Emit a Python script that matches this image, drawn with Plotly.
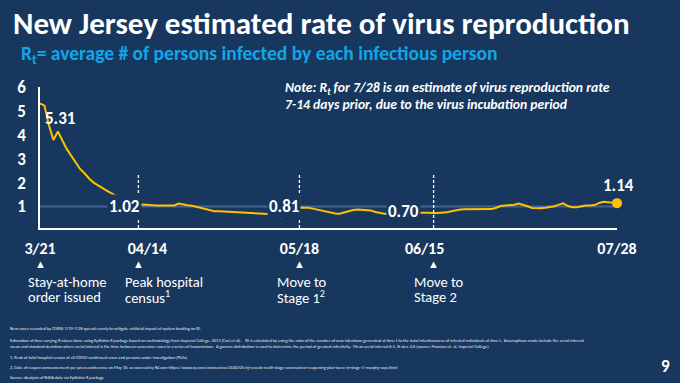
import plotly.graph_objects as go
import pandas as pd

# ---------------- data ----------------
start_date = "2020-03-21"
rt_values = [
    5.31, 5.22, 4.40, 3.78, 4.14, 3.78, 3.40, 3.12, 2.82, 2.56,
    2.38, 2.16, 2.00, 1.87, 1.77, 1.65, 1.55, 1.42, 1.32, 1.22,
    1.14, 1.08, 1.06, 1.08, 1.06, 1.05, 1.04, 1.04, 1.03, 1.02,
    1.04, 1.12, 1.07, 1.05, 1.03, 0.99, 0.95, 0.91, 0.85, 0.80,
    0.80, 0.79, 0.79, 0.79, 0.78, 0.77, 0.75, 0.75, 0.74, 0.72,
    0.71, 0.69, 0.63, 0.57, 0.54, 0.62, 0.78, 0.90, 0.96, 0.96,
    0.95, 0.91, 0.87, 0.82, 0.76, 0.73, 0.71, 0.70, 0.76, 0.82,
    0.85, 0.87, 0.86, 0.85, 0.83, 0.77, 0.73, 0.70, 0.70, 0.70,
    0.70, 0.70, 0.71, 0.72, 0.73, 0.74, 0.75, 0.74, 0.72, 0.73,
    0.75, 0.76, 0.80, 0.85, 0.87, 0.88, 0.88, 0.87, 0.87, 0.87,
    0.86, 0.89, 0.95, 1.02, 1.04, 1.04, 1.07, 1.12, 1.08, 1.01,
    0.94, 0.92, 0.93, 0.95, 0.97, 1.01, 1.08, 1.13, 1.02, 0.97,
    0.97, 1.02, 1.04, 1.04, 1.06, 1.15, 1.20, 1.18, 1.16, 1.14,
]
dates = pd.date_range(start_date, periods=len(rt_values), freq="D")

tick_dates = ["2020-03-21", "2020-04-14", "2020-05-18", "2020-06-15", "2020-07-28"]
tick_labels = ["3/21", "04/14", "05/18", "06/15", "07/28"]
y_ticks = [1, 2, 3, 4, 5, 6]

event_dates = ["2020-03-21", "2020-04-12", "2020-05-18", "2020-06-17"]
event_line1 = ["Stay-at-home", "Peak hospital", "Move to", "Move to"]
event_line2 = ["order issued", "census<sup>1</sup>", "Stage 1<sup>2</sup>", "Stage 2"]
vline_dates = ["2020-04-12", "2020-05-18", "2020-06-17"]

value_labels = ["5.31", "1.02", "0.81", "0.70", "1.14"]

title_text = "New Jersey estimated rate of virus reproduction"
subtitle_text = "R<sub>t</sub>= average # of persons infected by each infectious person"
note_lines = ["Note: R<sub>t</sub> for 7/28 is an estimate of virus reproduction rate",
              "7-14 days prior, due to the virus incubation period"]
footnotes = [
    "New cases recorded by CDRSS 7/19-7/28 spread evenly to mitigate artificial impact of system backlog on RI.",
    "Estimation of time-varying R values done using EpiEstim R package based on methodology from Imperial College, 2013 (Cori et al).    Rt is calculated by using the ratio of the number of new infections generated at time t to the total infectiousness of infected individuals at time t.  Assumptions made include the serial interval",
    "mean and standard deviation where serial interval is the time between successive cases in a series of transmission.  A gamma distribution is used to determine the period of greatest infectivity.  Mean serial interval 6.5, St dev. 4.6 (source: Flaxman et. al, Imperial College).",
    "1. Peak of total hospital census of all COVID-confirmed cases and persons under investigation (PUIs).",
    "2. Date of reopen announcement per press conference on May 18, as covered by NJ.com https://www.nj.com/coronavirus/2020/05/nj-reveals-multi-stage-coronavirus-reopening-plan-were-in-stage-1-murphy-says.html",
    "Source: Analysis of NJHA data via EpiEstim R package",
]
page_number = "9"

# ---------------- style ----------------
BG = "#17375E"
YELLOW = "#FFC000"
LIGHTBLUE = "#12A6E8"
REFBLUE = "#3F6496"
FONT = "Carlito, Calibri, Lato, sans-serif"

WIDTH, HEIGHT = 680, 383
L, R, T, B = 40, 63, 87, 155
PW = WIDTH - L - R
PH = HEIGHT - T - B


def px(x):
    return (x - L) / PW


def py(y):
    return (HEIGHT - B - y) / PH


fig = go.Figure()

# reference line at Rt = 1
fig.add_trace(go.Scatter(
    x=[dates[0], dates[-1]], y=[1, 1], mode="lines",
    line=dict(color=REFBLUE, width=2), hoverinfo="skip", showlegend=False))

fig.add_trace(go.Scatter(
    x=dates, y=rt_values, mode="lines",
    line=dict(color=YELLOW, width=2), showlegend=False))

fig.add_trace(go.Scatter(
    x=[dates[-1]], y=[rt_values[-1]], mode="markers",
    marker=dict(color=YELLOW, size=10), cliponaxis=False, showlegend=False))

for d in vline_dates:
    fig.add_shape(type="line", xref="x", yref="y", x0=d, x1=d, y0=0.1, y1=2.35,
                  line=dict(color="white", width=1.3, dash="3px,2px"), layer="above")

ann = []
# title & subtitle
ann.append(dict(text=title_text, x=px(11), y=py(23), xref="paper", yref="paper",
                xanchor="left", yanchor="middle", showarrow=False,
                font=dict(family=FONT, size=31, color="white", weight="bold")))
ann.append(dict(text=subtitle_text, x=px(19), y=py(54), xref="paper", yref="paper",
                xanchor="left", yanchor="middle", showarrow=False,
                font=dict(family=FONT, size=19.5, color=LIGHTBLUE, weight="bold")))
# note
for i, t in enumerate(note_lines):
    ann.append(dict(text=t, x=px(283), y=py(88 + 16 * i), xref="paper", yref="paper",
                    xanchor="left", yanchor="middle", showarrow=False,
                    font=dict(family=FONT, size=13.7, color="white", style="italic", weight=600)))

# value labels (with background boxes that mask the lines)
label_pos = [(60, 118), (124, 206), (284, 206), (403, 211), (618, 185)]
for t, (lx, ly), bg in zip(value_labels, label_pos, [None, BG, BG, BG, None]):
    a = dict(text=t, x=px(lx), y=py(ly), xref="paper", yref="paper",
             xanchor="center", yanchor="middle", showarrow=False,
             font=dict(family=FONT, size=17, color="white", weight="bold"),
             borderpad=1)
    if bg:
        a["bgcolor"] = bg
    ann.append(a)

# events below axis
text_left = [26, 123, 275, 412]
for d, l1, l2, tx in zip(event_dates, event_line1, event_line2, text_left):
    ann.append(dict(text="▲", x=d, y=py(264), xref="x", yref="paper",
                    xanchor="center", yanchor="middle", showarrow=False,
                    font=dict(family=FONT, size=11, color="white")))
    ann.append(dict(text=l1, x=px(tx), y=py(282), xref="paper", yref="paper",
                    xanchor="left", yanchor="middle", showarrow=False,
                    font=dict(family=FONT, size=14.5, color="white")))
    ann.append(dict(text=l2, x=px(tx), y=py(297), xref="paper", yref="paper",
                    xanchor="left", yanchor="middle", showarrow=False,
                    font=dict(family=FONT, size=14.5, color="white")))

# footnotes
foot_y = [328, 340, 346, 357, 367, 377]
for t, fy in zip(footnotes, foot_y):
    ann.append(dict(text=t, x=px(8), y=py(fy), xref="paper", yref="paper",
                    xanchor="left", yanchor="middle", showarrow=False,
                    font=dict(family=FONT, size=4.4, color="#E8ECF2")))

ann.append(dict(text=page_number, x=px(665), y=py(366), xref="paper", yref="paper",
                xanchor="center", yanchor="middle", showarrow=False,
                font=dict(family=FONT, size=17, color="white", weight="bold")))

fig.update_layout(
    width=WIDTH, height=HEIGHT,
    margin=dict(l=L, r=R, t=T, b=B, pad=0),
    paper_bgcolor=BG, plot_bgcolor=BG,
    annotations=ann,
    showlegend=False,
    xaxis=dict(
        type="date", range=[dates[0], dates[-1]],
        tickvals=tick_dates, ticktext=tick_labels, ticks="", ticklen=0,
        tickfont=dict(family=FONT, size=16, color="white", weight="bold"),
        ticklabelstandoff=5,
        showgrid=False, zeroline=False,
        showline=True, linecolor="white", linewidth=1.5,
    ),
    yaxis=dict(
        range=[0.1, 6.0], tickvals=y_ticks, ticks="", ticklen=0,
        tickfont=dict(family=FONT, size=17, color="white", weight="bold"),
        ticklabelstandoff=9,
        showgrid=False, zeroline=False,
        showline=True, linecolor="white", linewidth=1.5,
    ),
)

fig.write_html(
    "out.html",
    config={"displayModeBar": False},
    post_script="document.documentElement.style.margin='0';document.body.style.margin='0';"
                "document.body.style.padding='0';document.body.style.overflow='hidden';"
                "document.body.style.background='" + BG + "';",
)
